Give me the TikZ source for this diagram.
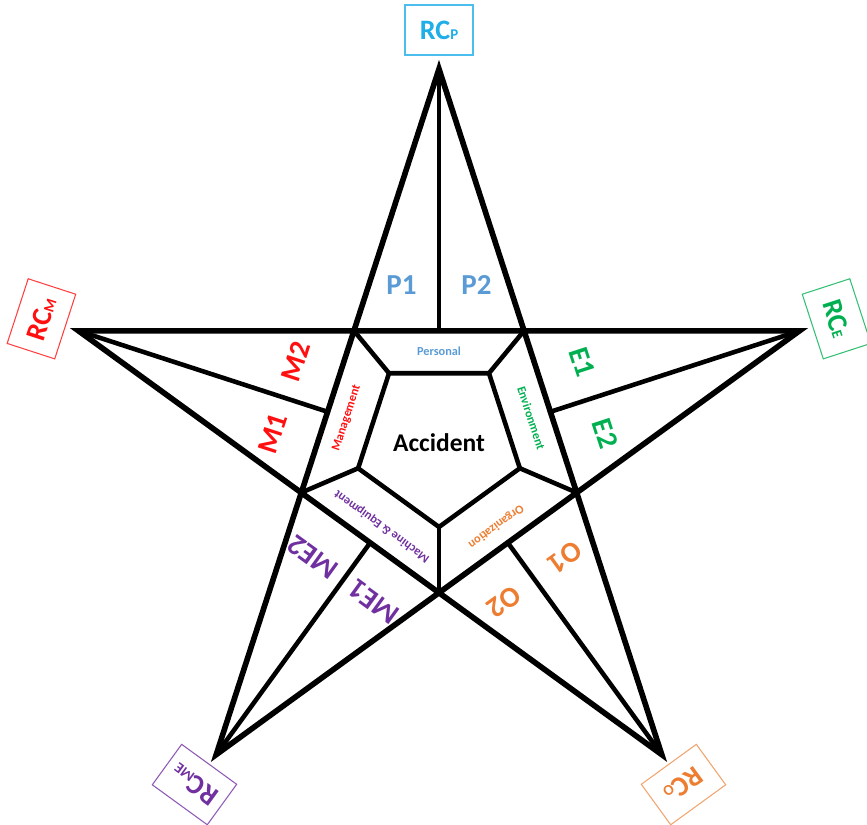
\documentclass[tikz,border=0pt]{standalone}
\usepackage{fontspec}
\setmainfont{Carlito}
\usepackage{xcolor}
\usepackage{tikz}
\definecolor{rcp}{HTML}{1FAEE8}
\definecolor{pers}{HTML}{5B9BD5}
\definecolor{mgmt}{HTML}{FF1010}
\definecolor{envi}{HTML}{00B050}
\definecolor{mach}{HTML}{7030A0}
\definecolor{orga}{HTML}{ED7D31}
\newcommand{\rcname}[1]{RC{\fontsize{8.5}{9}\selectfont #1}}
\tikzset{
  starline/.style={line width=3.2pt, line join=miter},
  innerline/.style={line width=2.6pt},
  rcbox/.style={rectangle, line width=0.6pt, minimum width=1.36cm, minimum height=1cm,
                inner sep=2pt, font=\bfseries\fontsize{16}{16}\selectfont},
  cause/.style={font=\bfseries\fontsize{16.5}{17}\selectfont, inner sep=0pt},
  factor/.style={font=\bfseries\fontsize{7}{8}\selectfont, inner sep=0pt},
}

\begin{document}
\begin{tikzpicture}[x=0.02cm, y=0.02cm]
  \useasboundingbox (-439,-377) rectangle (428,448);
  % star tips
  \coordinate (tP) at (90:379);
  \coordinate (tM) at (162:379);
  \coordinate (tME) at (234:379);
  \coordinate (tO) at (306:379);
  \coordinate (tE) at (18:379);
  % crossings of the star
  \coordinate (cPM) at (126:146);
  \coordinate (cMME) at (198:146);
  \coordinate (cMEO) at (270:146);
  \coordinate (cOE) at (342:146);
  \coordinate (cEP) at (54:146);
  % corners of the accident pentagon
  \coordinate (aPM) at ([shift={(0,6)}]126:85);
  \coordinate (aMME) at ([shift={(0,6)}]198:85);
  \coordinate (aMEO) at ([shift={(0,6)}]270:85);
  \coordinate (aOE) at ([shift={(0,6)}]342:85);
  \coordinate (aEP) at ([shift={(0,6)}]54:85);
  % middles of the inner edges
  \coordinate (mP) at (90:118);
  \coordinate (mM) at (162:118);
  \coordinate (mME) at (234:118);
  \coordinate (mO) at (306:118);
  \coordinate (mE) at (18:118);

  \draw[starline] (tP) -- (tO) -- (tM) -- (tE) -- (tME) -- cycle;
  \draw[innerline] (aPM) -- (aMME) -- (aMEO) -- (aOE) -- (aEP) -- cycle;
  \draw[innerline] (cPM) -- (aPM);
  \draw[innerline] (cMME) -- (aMME);
  \draw[innerline] (cMEO) -- (aMEO);
  \draw[innerline] (cOE) -- (aOE);
  \draw[innerline] (cEP) -- (aEP);
  \draw[innerline] (tP) -- (mP);
  \draw[innerline] (tM) -- (mM);
  \draw[innerline] (tME) -- (mME);
  \draw[innerline] (tO) -- (mO);
  \draw[innerline] (tE) -- (mE);

  \node[font=\bfseries\fontsize{14.5}{15}\selectfont] (accident) at (0,5) {Accident};

  \node[rcbox, draw=rcp!80, text=rcp] (rcP) at (90:418) {\rcname{P}};
  \node[rcbox, draw=mgmt!80, text=mgmt, rotate=72] (rcM) at (162:418) {\rcname{M}};
  \node[rcbox, draw=mach!80, text=mach, rotate=144] (rcME) at (234:416) {\rcname{ME}};
  \node[rcbox, draw=orga!70, text=orga, rotate=-144] (rcO) at (306:416) {\rcname{O}};
  \node[rcbox, draw=envi!80, text=envi, rotate=-72] (rcE) at (18:418) {\rcname{E}};

  \node[cause, text=pers] (p1) at (103:167) {P1};
  \node[cause, text=pers] (p2) at (77:167) {P2};
  \node[cause, text=mgmt, rotate=72] (m1) at (175:167) {M1};
  \node[cause, text=mgmt, rotate=72] (m2) at (149:167) {M2};
  \node[cause, text=mach, rotate=144] (me1) at (247:167) {ME1};
  \node[cause, text=mach, rotate=144] (me2) at (221:167) {ME2};
  \node[cause, text=orga, rotate=-144] (o1) at (319:167) {O1};
  \node[cause, text=orga, rotate=-144] (o2) at (293:167) {O2};
  \node[cause, text=envi, rotate=-72] (e1) at (31:167) {E1};
  \node[cause, text=envi, rotate=-72] (e2) at (5:167) {E2};

  \node[factor, text=pers] (personal) at (90:97) {Personal};
  \node[factor, text=mgmt, rotate=72] (management) at (162:97) {Management};
  \node[factor, text=mach, rotate=144] (machine) at (234:97) {Machine \& Equipment};
  \node[factor, text=orga, rotate=-144] (organization) at (306:97) {Organization};
  \node[factor, text=envi, rotate=-72] (environment) at (18:97) {Environment};
\end{tikzpicture}
\end{document}
